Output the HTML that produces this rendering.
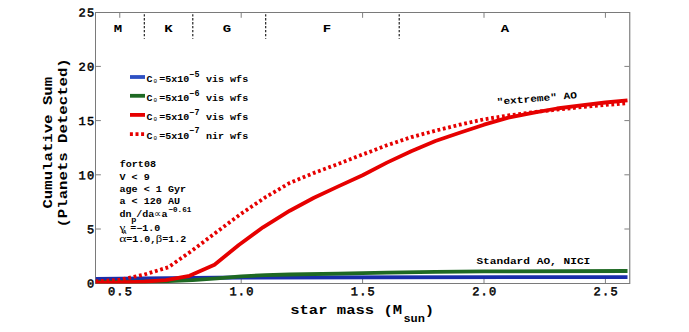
<!DOCTYPE html>
<html><head><meta charset="utf-8"><title>Cumulative Sum (Planets Detected) vs star mass</title>
<style>
html,body{margin:0;padding:0;background:#fff;}
body{width:689px;height:332px;overflow:hidden;font-family:"Liberation Mono",monospace;}
svg{display:block;}
</style></head><body>
<svg width="689" height="332" viewBox="0 0 689 332">
<rect width="689" height="332" fill="#fff"/>
<g stroke="#7a7a7a" stroke-width="1" fill="none" shape-rendering="crispEdges">
<path d="M629.5,12.5 H95.5 V283.5 H629.5"/>
</g>
<line x1="629.75" y1="12" x2="629.75" y2="284" stroke="#7a7a7a" stroke-width="1.15"/>
<g stroke="#808080" stroke-width="1">
<line x1="119.78" y1="13" x2="119.78" y2="17.8"/>
<line x1="119.78" y1="283" x2="119.78" y2="278.2"/>
<line x1="241.19" y1="13" x2="241.19" y2="17.8"/>
<line x1="241.19" y1="283" x2="241.19" y2="278.2"/>
<line x1="362.60" y1="13" x2="362.60" y2="17.8"/>
<line x1="362.60" y1="283" x2="362.60" y2="278.2"/>
<line x1="484.01" y1="13" x2="484.01" y2="17.8"/>
<line x1="484.01" y1="283" x2="484.01" y2="278.2"/>
<line x1="605.42" y1="13" x2="605.42" y2="17.8"/>
<line x1="605.42" y1="283" x2="605.42" y2="278.2"/>
<line x1="96" y1="229.00" x2="100.9" y2="229.00"/>
<line x1="629.2" y1="229.00" x2="624.4" y2="229.00"/>
<line x1="96" y1="174.80" x2="100.9" y2="174.80"/>
<line x1="629.2" y1="174.80" x2="624.4" y2="174.80"/>
<line x1="96" y1="120.60" x2="100.9" y2="120.60"/>
<line x1="629.2" y1="120.60" x2="624.4" y2="120.60"/>
<line x1="96" y1="66.40" x2="100.9" y2="66.40"/>
<line x1="629.2" y1="66.40" x2="624.4" y2="66.40"/>
</g>
<g stroke="#111" stroke-width="1.1" stroke-dasharray="2.3 1.66" stroke-dashoffset="2.3">
<line x1="144.3" y1="12.5" x2="144.3" y2="38.7"/>
<line x1="192.8" y1="12.5" x2="192.8" y2="38.7"/>
<line x1="265.7" y1="12.5" x2="265.7" y2="38.7"/>
<line x1="399.2" y1="12.5" x2="399.2" y2="38.7"/>
</g>
<clipPath id="c"><rect x="95.5" y="12.5" width="534.2" height="271"/></clipPath>
<g fill="none" stroke-width="3.8" stroke-linejoin="round" clip-path="url(#c)">
<polyline stroke="#192daa" points="95.5,278.9 241.2,277.5 627.5,277.1"/>
<polyline stroke="#1e6923" points="95.5,281.8 144.1,281.6 168.3,281.1 192.6,280.1 216.9,278.4 241.2,276.4 265.5,275.1 289.8,274.5 338.3,273.6 386.9,272.6 435.4,271.9 484.0,271.4 627.5,271.0"/>
<polyline stroke="#e60000" points="95.5,282.6 119.8,282.4 144.1,281.6 165.9,280.1 189.5,275.8 214.5,264.7 238.8,245.0 263.0,227.3 289.8,210.7 314.0,197.8 338.3,186.4 362.6,175.3 386.9,162.6 411.2,151.2 435.4,141.0 459.7,132.8 484.0,124.7 508.3,117.7 532.6,112.8 556.9,108.5 581.1,105.3 605.4,102.5 627.5,100.4"/>
<polyline stroke="#e60000" stroke-dasharray="2.8 2.7" points="95.5,281.3 119.8,279.8 144.1,274.6 168.3,267.3 192.6,250.2 216.9,231.8 241.2,213.7 265.5,197.2 289.8,182.9 314.0,172.9 338.3,163.9 362.6,154.5 386.9,145.3 411.2,137.2 435.4,130.7 459.7,124.7 484.0,119.3 508.3,115.5 532.6,112.3 556.9,109.6 581.1,107.2 605.4,105.0 627.5,103.1"/>
</g>
<g fill="none" stroke-width="3.8">
<line x1="130.0" y1="77" x2="145.0" y2="77" stroke="#2d50c3"/>
<line x1="130.0" y1="95.8" x2="145.0" y2="95.8" stroke="#1e6923"/>
<line x1="130.0" y1="114.9" x2="145.0" y2="114.9" stroke="#e60000"/>
<line x1="129.9" y1="134.2" x2="144.1" y2="134.2" stroke="#e60000" stroke-dasharray="3.0 2.6"/>
</g>
<g font-family="'Liberation Mono', monospace" font-weight="bold" fill="#000">
<text transform="translate(95.30,287.55) rotate(0.03) scale(1,1.000)" font-size="12.00" text-anchor="end" font-weight="normal" stroke="#000" stroke-width="0.5" letter-spacing="1.20">0</text>
<text transform="translate(95.30,233.35) rotate(0.03) scale(1,1.000)" font-size="12.00" text-anchor="end" font-weight="normal" stroke="#000" stroke-width="0.5" letter-spacing="1.20">5</text>
<text transform="translate(95.30,179.15) rotate(0.03) scale(1,1.000)" font-size="12.00" text-anchor="end" font-weight="normal" stroke="#000" stroke-width="0.5" letter-spacing="1.20">10</text>
<text transform="translate(95.30,124.95) rotate(0.03) scale(1,1.000)" font-size="12.00" text-anchor="end" font-weight="normal" stroke="#000" stroke-width="0.5" letter-spacing="1.20">15</text>
<text transform="translate(95.30,70.75) rotate(0.03) scale(1,1.000)" font-size="12.00" text-anchor="end" font-weight="normal" stroke="#000" stroke-width="0.5" letter-spacing="1.20">20</text>
<text transform="translate(95.30,16.55) rotate(0.03) scale(1,1.000)" font-size="12.00" text-anchor="end" font-weight="normal" stroke="#000" stroke-width="0.5" letter-spacing="1.20">25</text>
<text transform="translate(120.58,295.30) rotate(0.03) scale(1,1.000)" font-size="12.00" text-anchor="middle" font-weight="normal" stroke="#000" stroke-width="0.5" letter-spacing="1.20">0.5</text>
<text transform="translate(241.99,295.30) rotate(0.03) scale(1,1.000)" font-size="12.00" text-anchor="middle" font-weight="normal" stroke="#000" stroke-width="0.5" letter-spacing="1.20">1.0</text>
<text transform="translate(363.40,295.30) rotate(0.03) scale(1,1.000)" font-size="12.00" text-anchor="middle" font-weight="normal" stroke="#000" stroke-width="0.5" letter-spacing="1.20">1.5</text>
<text transform="translate(484.81,295.30) rotate(0.03) scale(1,1.000)" font-size="12.00" text-anchor="middle" font-weight="normal" stroke="#000" stroke-width="0.5" letter-spacing="1.20">2.0</text>
<text transform="translate(606.22,295.30) rotate(0.03) scale(1,1.000)" font-size="12.00" text-anchor="middle" font-weight="normal" stroke="#000" stroke-width="0.5" letter-spacing="1.20">2.5</text>
<text transform="translate(117.90,32.10) scale(1.2500,1)" font-size="11.20" text-anchor="middle">M</text>
<text transform="translate(168.50,32.10) scale(1.2500,1)" font-size="11.20" text-anchor="middle">K</text>
<text transform="translate(227.00,32.10) scale(1.2500,1)" font-size="11.20" text-anchor="middle">G</text>
<text transform="translate(327.00,32.10) scale(1.2500,1)" font-size="11.20" text-anchor="middle">F</text>
<text transform="translate(505.00,32.10) scale(1.2500,1)" font-size="11.20" text-anchor="middle">A</text>
<text transform="translate(146.50,81.60) scale(1.1765,1)" font-size="8.50" text-anchor="start">C</text>
<text transform="translate(153.40,83.20) scale(1.1765,1)" font-size="5.10" text-anchor="start" font-weight="normal">0</text>
<text transform="translate(159.20,81.60) scale(1.1765,1)" font-size="8.50" text-anchor="start">=5x10</text>
<text transform="translate(189.40,76.50) scale(1.0309,1)" font-size="8.15" text-anchor="start">−5</text>
<text transform="translate(206.00,81.60) scale(1.1765,1)" font-size="8.54" text-anchor="start">vis wfs</text>
<text transform="translate(146.50,100.60) scale(1.1765,1)" font-size="8.50" text-anchor="start">C</text>
<text transform="translate(153.40,102.20) scale(1.1765,1)" font-size="5.10" text-anchor="start" font-weight="normal">0</text>
<text transform="translate(159.20,100.60) scale(1.1765,1)" font-size="8.50" text-anchor="start">=5x10</text>
<text transform="translate(189.40,95.50) scale(1.0309,1)" font-size="8.15" text-anchor="start">−6</text>
<text transform="translate(206.00,100.60) scale(1.1765,1)" font-size="8.54" text-anchor="start">vis wfs</text>
<text transform="translate(146.50,119.70) scale(1.1765,1)" font-size="8.50" text-anchor="start">C</text>
<text transform="translate(153.40,121.30) scale(1.1765,1)" font-size="5.10" text-anchor="start" font-weight="normal">0</text>
<text transform="translate(159.20,119.70) scale(1.1765,1)" font-size="8.50" text-anchor="start">=5x10</text>
<text transform="translate(189.40,114.60) scale(1.0309,1)" font-size="8.15" text-anchor="start">−7</text>
<text transform="translate(206.00,119.70) scale(1.1765,1)" font-size="8.54" text-anchor="start">vis wfs</text>
<text transform="translate(146.50,138.50) scale(1.1765,1)" font-size="8.50" text-anchor="start">C</text>
<text transform="translate(153.40,140.10) scale(1.1765,1)" font-size="5.10" text-anchor="start" font-weight="normal">0</text>
<text transform="translate(159.20,138.50) scale(1.1765,1)" font-size="8.50" text-anchor="start">=5x10</text>
<text transform="translate(189.40,133.40) scale(1.0309,1)" font-size="8.15" text-anchor="start">−7</text>
<text transform="translate(206.00,138.50) scale(1.1765,1)" font-size="8.54" text-anchor="start">nir wfs</text>
<text transform="translate(119.70,166.60) scale(1.1765,1)" font-size="8.58" text-anchor="start">fort08</text>
<text transform="translate(119.50,179.50) scale(1.1765,1)" font-size="8.58" text-anchor="start">V &lt; 9</text>
<text transform="translate(119.50,191.50) scale(1.1765,1)" font-size="8.58" text-anchor="start">age &lt; 1 Gyr</text>
<text transform="translate(119.50,203.90) scale(1.1765,1)" font-size="8.58" text-anchor="start">a &lt; 120 AU</text>
<text transform="translate(119.60,217.10) scale(1.1765,1)" font-size="8.50" text-anchor="start">dn</text>
<text transform="translate(131.30,222.40) scale(1.1765,1)" font-size="7.22" text-anchor="start">p</text>
<text transform="translate(136.20,217.10) scale(1.1765,1)" font-size="8.50" text-anchor="start">/da</text>
<text transform="translate(154.00,216.80) scale(1.000,1)" font-size="9.50" font-family="'Liberation Serif', serif" font-weight="normal">∝</text>
<text transform="translate(161.50,217.10) scale(1.1765,1)" font-size="8.50" text-anchor="start">a</text>
<text transform="translate(168.50,212.20) scale(1.0526,1)" font-size="7.22" text-anchor="start">−0.61</text>
<text transform="translate(119.40,230.80) scale(1.200,1)" font-size="11.00" font-family="'Liberation Serif', serif" font-weight="normal">γ</text>
<text transform="translate(122.90,234.40) scale(1.1765,1)" font-size="4.76" text-anchor="start">A</text>
<text transform="translate(130.20,230.80) scale(1.1765,1)" font-size="8.50" text-anchor="start">=−1.0</text>
<text transform="translate(119.20,242.00) scale(1.250,1)" font-size="11.00" font-family="'Liberation Serif', serif" font-weight="normal">α</text>
<text transform="translate(126.20,242.00) scale(1.1765,1)" font-size="8.50" text-anchor="start">=1.0,</text>
<text transform="translate(155.80,242.00) scale(1.150,1)" font-size="11.00" font-family="'Liberation Serif', serif" font-weight="normal">β</text>
<text transform="translate(162.20,242.00) scale(1.1765,1)" font-size="8.50" text-anchor="start">=1.2</text>
<text transform="translate(476.40,264.20) scale(1.1765,1)" font-size="9.50" text-anchor="start">Standard AO, NICI</text>
<text transform="translate(497.00,104.90) rotate(-4.80) scale(1.1765,1)" font-size="9.52" text-anchor="start">"extreme" AO</text>
<text transform="translate(290.20,313.80) scale(1.1765,1)" font-size="13.22" text-anchor="start">star mass (M</text>
<text transform="translate(403.40,321.80) scale(1.1765,1)" font-size="10.20" text-anchor="start">sun</text>
<text transform="translate(424.70,313.80) scale(1.1765,1)" font-size="13.22" text-anchor="start">)</text>
<text transform="translate(51.70,142.70) rotate(-90.00) scale(1.1765,1)" font-size="13.34" text-anchor="middle">Cumulative Sum</text>
<text transform="translate(66.60,142.90) rotate(-90.00) scale(1.1765,1)" font-size="13.34" text-anchor="middle">(Planets Detected)</text>
</g>
</svg>
</body></html>
